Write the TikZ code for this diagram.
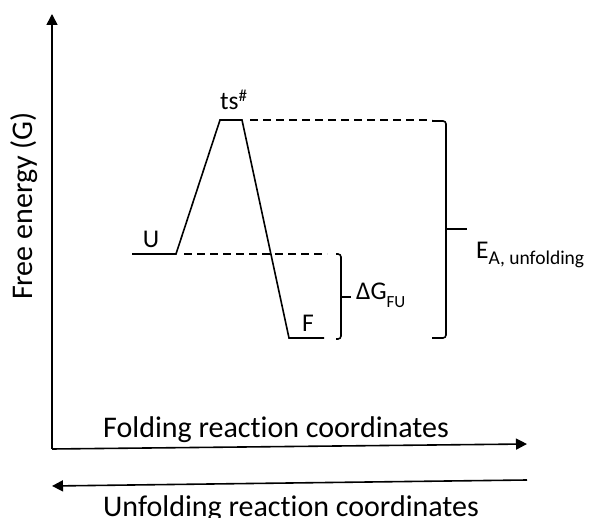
\documentclass[tikz,border=0pt]{standalone}
\usepackage{fontspec}
\setmainfont{Carlito}[Ligatures={NoCommon}]
\usetikzlibrary{arrows.meta}
\begin{document}
\begin{tikzpicture}[x=1pt,y=-1pt,
  ln/.style={line width=1.6pt},
  dsh/.style={line width=1.4pt,dash pattern=on 8pt off 5pt},
  arr/.style={line width=1.6pt,-{Triangle[length=11pt,width=11pt]}},
  axlabel/.style={inner sep=0pt,font=\fontsize{30}{34}\selectfont},
  lvlabel/.style={inner sep=0pt,font=\fontsize{25.5}{28}\selectfont},
  brk/.style={line width=1.6pt,rounded corners=3pt}]
\useasboundingbox (0,0) rectangle (592,518);
% axes
\coordinate (o) at (52,449);
\coordinate (ytip) at (52,14);
\coordinate (xtip) at (527,444);
\coordinate (ustart) at (527,480);
\coordinate (utip) at (52,486);
\draw[arr] (o) -- (ytip);
\draw[arr] (o) -- (xtip);
\draw[arr] (ustart) -- (utip);
\node[axlabel,anchor=base west] (fold) at (103,438) {Folding reaction coordinates};
\node[axlabel,anchor=base west] (unfold) at (103,516) {Unfolding reaction coordinates};
\node[axlabel,anchor=base,rotate=90] (ylab) at (32,206) {Free energy (G)};
% profile
\coordinate (u0) at (132,254);
\coordinate (u1) at (176,254);
\coordinate (t0) at (220,120);
\coordinate (t1) at (242,120);
\coordinate (f0) at (289,338);
\coordinate (f1) at (324,338);
\draw[ln,line join=miter] (u0) -- (u1) -- (t0) -- (t1) -- (f0) -- (f1);
\coordinate (td) at (432,120);
\coordinate (ud) at (327,254);
\draw[dsh] (t1) ++(8,0) -- (td);
\draw[dsh] (u1) ++(8,0) -- (ud);
\node[lvlabel,anchor=base] (U) at (151,248) {U};
\node[lvlabel,anchor=base west] (ts) at (220,110) {ts\raisebox{8pt}{\fontsize{17}{17}\selectfont\#}};
\node[lvlabel,anchor=base] (F) at (308,332) {F};
% small bracket
\draw[brk] (336,254) -- (341,254) -- (341,297) -- (341,339) -- (336,339);
\draw[line width=1.6pt] (341,297) -- (351,297);
\node[lvlabel,anchor=base west] (dG) at (356,300) {ΔG\raisebox{-8pt}{\fontsize{17}{17}\selectfont FU}};
% big bracket
\draw[brk] (432,121) -- (446,121) -- (446,229) -- (446,338) -- (432,338);
\draw[line width=1.6pt] (446,229) -- (467,229);
\node[lvlabel,anchor=base west] (EA) at (476,259) {E\raisebox{-6pt}{\fontsize{19.5}{20}\selectfont A, unfolding}};
\end{tikzpicture}
\end{document}
